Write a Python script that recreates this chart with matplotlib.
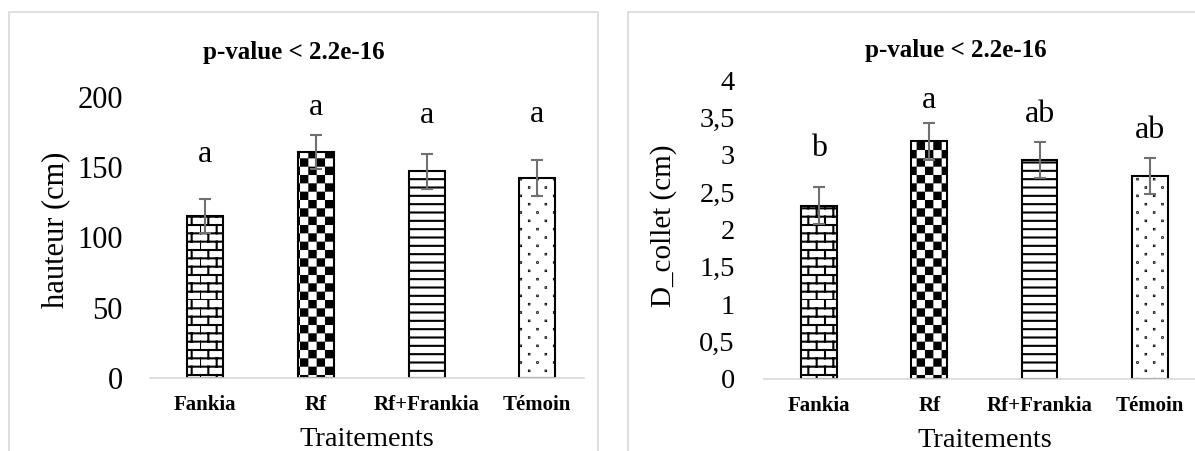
import warnings
import numpy as np
import matplotlib
matplotlib.use('Agg')
import matplotlib.pyplot as plt
from matplotlib import hatch as mhatch
from matplotlib.path import Path
from matplotlib.patches import Rectangle

warnings.filterwarnings('ignore')

# Données
traitements = ['Fankia', 'Rf', 'Rf+Frankia', 'Témoin']

hauteur = [115.5, 161, 147, 142.5]
hauteur_err = [12, 12.2, 12.6, 12.8]
hauteur_lettres = ['a', 'a', 'a', 'a']
hauteur_lettres_y = [154, 187, 181.5, 182.5]
hauteur_ticks = [0, 50, 100, 150, 200]
hauteur_tick_labels = ['0', '50', '100', '150', '200']

collet = [2.32, 3.18, 2.93, 2.71]
collet_err = [0.25, 0.25, 0.235, 0.24]
collet_lettres = ['b', 'a', 'ab', 'ab']
collet_lettres_y = [2.98, 3.63, 3.44, 3.23]
collet_ticks = [0, 0.5, 1, 1.5, 2, 2.5, 3, 3.5, 4]
collet_tick_labels = ['0', '0,5', '1', '1,5', '2', '2,5', '3', '3,5', '4']

titre = 'p-value < 2.2e-16'
motifs = ['b', 'c', '--', 'd']   # brique, damier, lignes, points


# Motifs de hachures style Excel (brique, damier, points)
class BrickHatch(mhatch.HatchPatternBase):
    def __init__(self, hatch, density):
        self.rows = 12 if 'b' in hatch else 0
        self.cols = 6
        self.num_vertices = self.rows * (2 + 2 * self.cols)

    def set_vertices_and_codes(self, vertices, codes):
        k = 0
        for i in range(self.rows):
            y0 = i / self.rows
            y1 = (i + 1) / self.rows
            vertices[k] = (0, y0)
            vertices[k + 1] = (1, y0)
            codes[k] = Path.MOVETO
            codes[k + 1] = Path.LINETO
            k += 2
            shift = 0.5 * (i % 2)
            for j in range(self.cols):
                x = (j + shift) / self.cols
                vertices[k] = (x, y0)
                vertices[k + 1] = (x, y1)
                codes[k] = Path.MOVETO
                codes[k + 1] = Path.LINETO
                k += 2


class CheckerHatch(mhatch.HatchPatternBase):
    def __init__(self, hatch, density):
        self.n = 12 if 'c' in hatch else 0
        self.num_vertices = (self.n * self.n // 2) * 5

    def set_vertices_and_codes(self, vertices, codes):
        s = 1 / self.n
        m = 0.01
        k = 0
        for i in range(self.n):
            for j in range(self.n):
                if (i + j) % 2:
                    continue
                x, y = j * s, i * s
                vertices[k:k + 5] = [(x + m, y + m), (x + s - m, y + m),
                                     (x + s - m, y + s - m), (x + m, y + s - m),
                                     (x + m, y + m)]
                codes[k:k + 5] = [Path.MOVETO, Path.LINETO, Path.LINETO,
                                  Path.LINETO, Path.CLOSEPOLY]
                k += 5


class DotHatch(mhatch.HatchPatternBase):
    def __init__(self, hatch, density):
        self.rows = 12 if 'd' in hatch else 0
        self.cols = 6
        self.num_vertices = self.rows * self.cols * 5

    def set_vertices_and_codes(self, vertices, codes):
        r = 0.002
        k = 0
        for i in range(self.rows):
            y = (i + 0.5) / self.rows
            shift = 0.5 * (i % 2)
            for j in range(self.cols):
                x = (j + 0.25 + shift) / self.cols
                vertices[k:k + 5] = [(x - r, y - r), (x + r, y - r),
                                     (x + r, y + r), (x - r, y + r),
                                     (x - r, y - r)]
                codes[k:k + 5] = [Path.MOVETO, Path.LINETO, Path.LINETO,
                                  Path.LINETO, Path.CLOSEPOLY]
                k += 5


mhatch._hatch_types.extend([BrickHatch, CheckerHatch, DotHatch])

plt.rcParams['font.family'] = ['Liberation Serif', 'DejaVu Serif']
plt.rcParams['hatch.linewidth'] = 1.5
plt.rcParams['hatch.color'] = 'black'

W, H = 1195, 451
fig = plt.figure(figsize=(W / 100, H / 100), dpi=100)

# cadres gris des deux graphiques
fig.patches.append(Rectangle((9 / W, -0.1), 589 / W, 1.1 - 12 / H, transform=fig.transFigure,
                             fill=False, edgecolor='#d9d9d9', linewidth=1.2))
fig.patches.append(Rectangle((628 / W, -0.1), 0.5, 1.1 - 12 / H, transform=fig.transFigure,
                             fill=False, edgecolor='#d9d9d9', linewidth=1.2))


def panneau(ax, valeurs, erreurs, lettres, lettres_y, ticks, tick_labels, ymax, pad):
    x = np.arange(len(traitements))
    bars = ax.bar(x, valeurs, width=0.325, color='white', edgecolor='black',
                  linewidth=1.5, zorder=2)
    for b, h in zip(bars, motifs):
        b.set_hatch(h)
    ax.errorbar(x, valeurs, yerr=erreurs, fmt='none', ecolor='#707070',
                elinewidth=1.5, capsize=4, capthick=1.5, zorder=3)
    for xi, yi, l in zip(x, lettres_y, lettres):
        ax.text(xi, yi, l, ha='center', va='baseline', fontsize=23)
    ax.set_ylim(0, ymax)
    ax.set_yticks(ticks)
    ax.set_yticklabels(tick_labels, fontsize=22)
    ax.set_xticks(x)
    ax.set_xticklabels(traitements, fontsize=15, fontweight='bold')
    ax.tick_params(axis='both', length=0)
    ax.tick_params(axis='y', pad=pad)
    ax.tick_params(axis='x', pad=12)
    for s in ['top', 'right', 'left']:
        ax.spines[s].set_visible(False)
    ax.spines['bottom'].set_color('#d9d9d9')
    ax.spines['bottom'].set_linewidth(1.2)
    ax.set_xlabel('Traitements', fontsize=20.5, labelpad=9)


ax1 = fig.add_axes([150 / W, 73 / H, 433.6 / W, 281 / H])
panneau(ax1, hauteur, hauteur_err, hauteur_lettres, hauteur_lettres_y,
        hauteur_ticks, hauteur_tick_labels, 200, 19.5)
ax1.set_xlim(-0.5, 3.42)

ax2 = fig.add_axes([764 / W, 72 / H, 440.8 / W, 299 / H])
panneau(ax2, collet, collet_err, collet_lettres, collet_lettres_y,
        collet_ticks, collet_tick_labels, 4, 21)
ax2.set_xlim(-0.5, 3.5)
for t in ax2.get_yticklabels():
    t.set_fontsize(20.5)

fig.text(55.7 / W, 1 - 230 / H, 'hauteur (cm)', rotation=90, ha='center', va='center', fontsize=22)
fig.text(664 / W, 1 - 226 / H, 'D_collet (cm)', rotation=90, ha='center', va='center', fontsize=21)
fig.text(294 / W, 1 - 52 / H, titre, ha='center', va='center', fontsize=18, fontweight='bold')
fig.text(956 / W, 1 - 50 / H, titre, ha='center', va='center', fontsize=18, fontweight='bold')

fig.savefig('out.png', dpi=100)
